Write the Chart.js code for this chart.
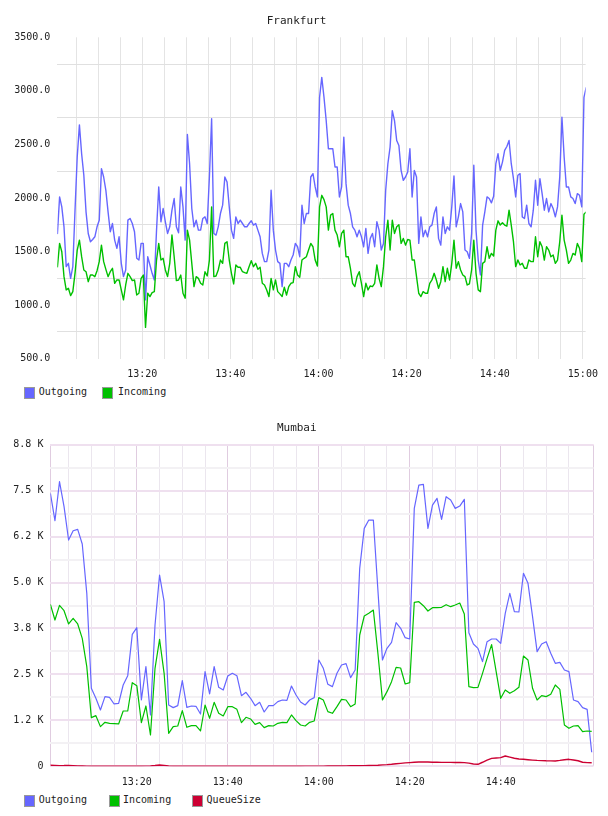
<!DOCTYPE html>
<html>
<head>
<meta charset="utf-8">
<script src="https://cdn.jsdelivr.net/npm/chart.js@4.4.1/dist/chart.umd.min.js"></script>
<style>
    body { margin: 0; background: #fff; width: 608px; height: 816px; position: relative; overflow: hidden; font-family: "DejaVu Sans Mono", monospace; }
    canvas { position: absolute; left: 0; }
    .item { position: absolute; font-size: 10px; color: #222; white-space: nowrap; line-height: 12px; }
    .caixa { position: absolute; width: 9px; height: 10px; border: 1px solid #999; box-sizing: content-box; }
</style>
</head>
<body>
<canvas id="graficoFrankfurt" width="608" height="382" style="top:0"></canvas>
<canvas id="graficoMumbai" width="608" height="387" style="top:405px"></canvas>
<div id="legendas"></div>
<script>
// minutos depois das 13:00
const inicioFrankfurt = 0.75
const passoFrankfurt = 0.5

const outgoingFrankfurt = [
    1663, 2010, 1917, 1731, 1359, 1390, 1250, 1359, 1886, 2382,
    2683, 2413, 2212, 1871, 1669, 1592, 1613, 1638, 1731, 1793,
    2274, 2196, 2072, 1871, 1685, 1762, 1607, 1530, 1638, 1390,
    1266, 1328, 1793, 1809, 1762, 1685, 1437, 1421, 1576, 1576,
    1049, 1452, 1375, 1297, 1235, 1700, 2103, 1778, 1902, 1778,
    1669, 1731, 1886, 1995, 1731, 1675, 2103, 1917, 1607, 2593,
    2320, 1902, 1731, 1793, 1700, 1700, 1809, 1824, 1762, 2200,
    2740, 1669, 1654, 1731, 1855, 1933, 2196, 2150, 1917, 1700,
    1623, 1824, 1762, 1793, 1762, 1731, 1731, 1762, 1787, 1747,
    1762, 1700, 1638, 1483, 1406, 1406, 1514, 2072, 1700, 1514,
    1406, 1390, 1173, 1390, 1390, 1359, 1421, 1468, 1576, 1545,
    1452, 1933, 1762, 1855, 1855, 2196, 2227, 2103, 2010, 2940,
    3126, 2940, 2723, 2460, 2460, 2460, 2289, 2289, 2010, 2103,
    2568, 2134, 1933, 1855, 1731, 1700, 1638, 1700, 1638, 1545,
    1715, 1483, 1623, 1669, 1545, 1778, 1700, 1514, 1576, 2072,
    2320, 2475, 2816, 2723, 2537, 2490, 2258, 2165, 2196, 2242,
    2460, 2010, 2258, 2196, 1576, 1824, 1638, 1700, 1638, 1731,
    1747, 1855, 1917, 1623, 1560, 1824, 1669, 1731, 1700, 1917,
    2205, 1731, 1824, 1948, 1870, 1514, 1498, 1437, 1669, 2305,
    1700, 1421, 1282, 1747, 1871, 2010, 1995, 1955, 2017, 2320,
    2413, 2258, 2335, 2444, 2481, 2537, 2320, 2180, 2010, 2212,
    2227, 1824, 1809, 1933, 1762, 1731, 1886, 2165, 1933, 2180,
    2041, 1886, 1995, 1870, 1948, 1902, 1824, 1917, 2196, 2754,
    2382, 2103, 2103, 2010, 1995, 1948, 2041, 2025, 1917, 2940,
    3033
]

const incomingFrankfurt = [
    1353, 1576, 1498, 1266, 1142, 1157, 1089, 1126, 1297, 1514,
    1607, 1452, 1328, 1312, 1219, 1281, 1281, 1266, 1322, 1406,
    1560, 1406, 1334, 1266, 1312, 1344, 1204, 1235, 1235, 1142,
    1049, 1188, 1297, 1266, 1229, 1235, 1095, 1111, 1250, 1281,
    792, 1111, 1080, 1117, 1126, 1421, 1576, 1421, 1437, 1328,
    1266, 1390, 1654, 1452, 1229, 1235, 1281, 1111, 1065, 1700,
    1607, 1390, 1173, 1266, 1250, 1204, 1188, 1312, 1272, 1421,
    1917, 1266, 1272, 1328, 1421, 1390, 1576, 1592, 1421, 1297,
    1198, 1375, 1353, 1353, 1312, 1303, 1297, 1359, 1415, 1359,
    1390, 1334, 1353, 1204, 1188, 1142, 1080, 1250, 1142, 1235,
    1126, 1105, 1080, 1167, 1095, 1173, 1204, 1210, 1359, 1281,
    1260, 1421, 1437, 1452, 1514, 1576, 1545, 1421, 1365, 1917,
    2025, 1985, 1917, 1700, 1840, 1855, 1700, 1654, 1545, 1669,
    1700, 1452, 1452, 1344, 1204, 1173, 1266, 1312, 1204, 1080,
    1204, 1142, 1179, 1173, 1204, 1375, 1250, 1173, 1359, 1638,
    1793, 1514, 1793, 1669, 1731, 1750, 1576, 1622, 1560, 1613,
    1607, 1421, 1421, 1266, 1111, 1080, 1126, 1111, 1111, 1204,
    1235, 1297, 1235, 1157, 1219, 1359, 1219, 1344, 1235, 1390,
    1607, 1344, 1406, 1328, 1281, 1266, 1188, 1198, 1328, 1607,
    1297, 1142, 1126, 1390, 1406, 1545, 1437, 1483, 1458, 1700,
    1787, 1747, 1768, 1747, 1737, 1886, 1747, 1592, 1359, 1421,
    1375, 1390, 1344, 1344, 1421, 1406, 1406, 1638, 1452, 1592,
    1545, 1421, 1545, 1514, 1452, 1468, 1390, 1421, 1592, 1840,
    1607, 1514, 1390, 1421, 1483, 1468, 1576, 1530, 1406, 1849,
    1870
]

// Mumbai: uma amostra por minuto, de 13:01 a 15:00
const inicioMumbai = 1
const passoMumbai = 1

const outgoingMumbai = [
    7426, 6682, 7743, 7063, 6156, 6410, 6447, 6048, 4706, 2122,
    1850, 1532, 1895, 1877, 1696, 1714, 2212, 2466, 3590, 3772,
    1804, 2711, 1396, 3844, 5204, 4479, 1668, 1596, 1650, 2330,
    1605, 1641, 1632, 1423, 2575, 1968, 2711, 2149, 2076, 2457,
    2530, 2466, 1922, 2013, 1850, 1650, 1741, 1478, 1650, 1650,
    1759, 1804, 1795, 2185, 1940, 1750, 1668, 1804, 1868, 2892,
    2666, 2230, 2167, 2530, 2756, 2793, 2412, 2620, 5386, 6474,
    6700, 6700, 4796, 2892, 3210, 3373, 3908, 3754, 3500, 3464,
    7018, 7652, 7671, 6474, 7108, 7290, 6719, 7335, 7245, 7018,
    7081, 7263, 3636, 3328, 3210, 2847, 3391, 3464, 3464, 3346,
    4162, 4706, 4207, 4198, 5250, 4978, 4071, 3119, 3328, 3391,
    3074, 2802, 2829, 2620, 2575, 1804, 1759, 1596, 1550, 381
]

const incomingMumbai = [
    4406, 3980, 4379, 4234, 3872, 4026, 3872, 3482, 2711, 1324,
    1378, 1079, 1197, 1170, 1161, 1152, 1505, 1505, 2276, 2194,
    1188, 1641, 852, 2666, 3454, 2530, 898, 1079, 1097, 1514,
    1061, 1106, 1106, 961, 1668, 1306, 1741, 1442, 1369, 1623,
    1623, 1550, 1188, 1333, 1288, 1142, 1188, 1052, 1106, 1097,
    1170, 1197, 1188, 1396, 1242, 1124, 1097, 1197, 1233, 1868,
    1804, 1487, 1442, 1623, 1822, 1804, 1623, 1696, 3572, 4089,
    4162, 4252, 3074, 1804, 2031, 2303, 2693, 2675, 2240, 2276,
    4461, 4479, 4370, 4225, 4316, 4316, 4325, 4397, 4343, 4388,
    4443, 4144, 2167, 2140, 2149, 2530, 2938, 3309, 2575, 1850,
    2076, 1986, 2058, 2149, 3001, 2892, 2122, 1804, 1922, 1895,
    1958, 2212, 2094, 1124, 1034, 1097, 1106, 943, 961, 952
]

const queueSizeMumbai = [
    30, 25, 18, 20, 25, 18, 12, 8, 5, 3,
    3, 3, 2, 2, 2, 2, 2, 2, 3, 3,
    3, 5, 10, 20, 35, 25, 8, 3, 2, 2,
    2, 2, 2, 2, 2, 2, 2, 2, 2, 2,
    2, 2, 2, 2, 2, 2, 2, 2, 2, 2,
    2, 2, 2, 3, 3, 3, 4, 4, 5, 5,
    6, 7, 8, 9, 10, 12, 14, 15, 17, 18,
    22, 25, 30, 38, 45, 55, 68, 80, 92, 100,
    110, 115, 118, 116, 112, 110, 108, 108, 106, 105,
    104, 100, 85, 62, 55, 110, 170, 215, 225, 235,
    280, 250, 220, 200, 190, 178, 168, 160, 155, 150,
    148, 145, 160, 180, 190, 170, 150, 110, 100, 95
]

const minutosMarcados = [20, 40, 60, 80, 100, 120]
const rotulosHora = ['13:20', '13:40', '14:00', '14:20', '14:40', '15:00']
const rotulosMumbai = ['0', '1.2 K', '2.5 K', '3.8 K', '5.0 K', '6.2 K', '7.5 K', '8.8 K']

const corOutgoing = '#6666ff'
const corIncoming = '#00c000'
const corQueue = '#cc0033'

Chart.defaults.font.family = '"DejaVu Sans Mono", monospace'
Chart.defaults.font.size = 10
Chart.defaults.color = '#222'

function pontos(valores, inicio, passo) {
    return valores.map((v, i) => ({ x: inicio + i * passo, y: v }))
}

function linha(label, dados, cor, ordem, largura) {
    return {
        label: label,
        data: dados,
        borderColor: cor,
        backgroundColor: cor,
        borderWidth: largura,
        pointRadius: 0,
        tension: 0,
        fill: false,
        order: ordem,
        borderJoinStyle: 'round'
    }
}

function rotuloHora(valor, ultimo) {
    const k = minutosMarcados.indexOf(valor)
    if (k < 0 || minutosMarcados[k] > ultimo) return ''
    return rotulosHora[k]
}

function titulo(texto, topo, baixo) {
    return {
        display: true,
        text: texto,
        color: '#222',
        font: { size: 11, weight: 'normal' },
        padding: { top: topo, bottom: baixo }
    }
}

new Chart(document.getElementById('graficoFrankfurt'), {
    type: 'line',
    data: {
        datasets: [
            linha('Outgoing', pontos(outgoingFrankfurt, inicioFrankfurt, passoFrankfurt), corOutgoing, 2, 1.4),
            linha('Incoming', pontos(incomingFrankfurt, inicioFrankfurt, passoFrankfurt), corIncoming, 1, 1.4)
        ]
    },
    options: {
        responsive: false,
        animation: false,
        layout: { padding: { left: 0, right: 15, top: 0, bottom: 0 } },
        plugins: {
            legend: { display: false },
            tooltip: { enabled: false },
            title: titulo('Frankfurt', 14.1, 10)
        },
        scales: {
            x: {
                type: 'linear',
                min: 0.73,
                max: 120.63,
                border: { display: false },
                grid: { color: '#e4e4e4', drawTicks: false },
                ticks: {
                    stepSize: 5,
                    includeBounds: false,
                    autoSkip: false,
                    maxRotation: 0,
                    padding: 10,
                    callback: v => rotuloHora(v, 120)
                },
                afterFit: escala => { escala.height = 23.3 }
            },
            y: {
                min: 500,
                max: 3500,
                border: { display: false },
                grid: {
                    drawTicks: false,
                    color: ctx => ctx.tick.value % 500 === 0 ? 'rgba(0,0,0,0)' : '#e0e0e0'
                },
                ticks: {
                    stepSize: 250,
                    padding: 7,
                    callback: v => v % 500 === 0 ? v.toFixed(1) : ''
                },
                afterFit: escala => { escala.width = 57.3 }
            }
        }
    }
})

new Chart(document.getElementById('graficoMumbai'), {
    type: 'line',
    data: {
        datasets: [
            linha('Outgoing', pontos(outgoingMumbai, inicioMumbai, passoMumbai), corOutgoing, 3, 1.2),
            linha('Incoming', pontos(incomingMumbai, inicioMumbai, passoMumbai), corIncoming, 2, 1.2),
            linha('QueueSize', pontos(queueSizeMumbai, inicioMumbai, passoMumbai), corQueue, 1, 1.4)
        ]
    },
    options: {
        responsive: false,
        animation: false,
        layout: { padding: { left: 0, right: 14.5, top: 0, bottom: 0 } },
        plugins: {
            legend: { display: false },
            tooltip: { enabled: false },
            title: titulo('Mumbai', 16.7, 9.8)
        },
        scales: {
            x: {
                type: 'linear',
                min: 1,
                max: 120.4,
                border: { display: false },
                grid: {
                    drawTicks: false,
                    color: ctx => {
                        const v = ctx.tick.value
                        if (v === 120) return 'rgba(0,0,0,0)'
                        return (v % 20 === 0 || v === 1 || v === 120.4) ? '#e0cce0' : '#ebe6ee'
                    }
                },
                ticks: {
                    stepSize: 5,
                    autoSkip: false,
                    maxRotation: 0,
                    padding: 10,
                    callback: v => rotuloHora(v, 100)
                },
                afterFit: escala => { escala.height = 25.7 }
            },
            y: {
                min: 0,
                max: 8750,
                border: { display: false },
                grid: {
                    drawTicks: false,
                    lineWidth: 2,
                    color: ctx => ctx.tick.value % 1250 === 0 ? '#efe0ef' : '#f3f1f4'
                },
                ticks: {
                    stepSize: 625,
                    padding: 7,
                    callback: v => v % 1250 === 0 ? rotulosMumbai[v / 1250] : ''
                },
                afterFit: escala => { escala.width = 50.4 }
            }
        }
    }
})

function criarLegenda(itens, topo) {
    const alvo = document.getElementById('legendas')
    itens.forEach(item => {
        const caixa = document.createElement('div')
        caixa.className = 'caixa'
        caixa.style.left = item.caixa + 'px'
        caixa.style.top = (topo - 5.5) + 'px'
        caixa.style.background = item.cor
        alvo.appendChild(caixa)

        const texto = document.createElement('div')
        texto.className = 'item'
        texto.style.left = item.texto + 'px'
        texto.style.top = (topo - 6) + 'px'
        texto.textContent = item.nome
        alvo.appendChild(texto)
    })
}

criarLegenda([
    { nome: 'Outgoing', cor: corOutgoing, caixa: 24, texto: 38.8 },
    { nome: 'Incoming', cor: corIncoming, caixa: 102, texto: 118 }
], 392.3)

criarLegenda([
    { nome: 'Outgoing', cor: corOutgoing, caixa: 24, texto: 38.8 },
    { nome: 'Incoming', cor: corIncoming, caixa: 108.5, texto: 123 },
    { nome: 'QueueSize', cor: corQueue, caixa: 192, texto: 206.6 }
], 800)
</script>
</body>
</html>
